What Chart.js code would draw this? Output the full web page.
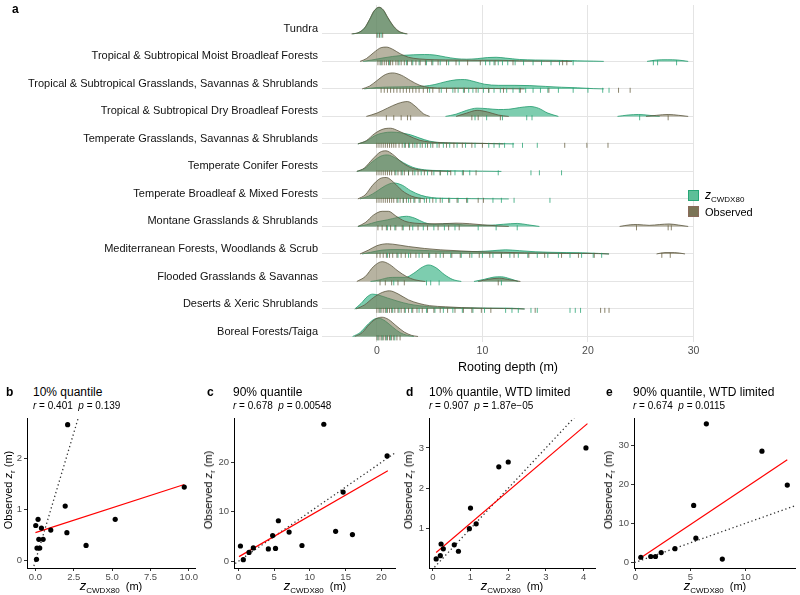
<!DOCTYPE html>
<html><head><meta charset="utf-8">
<script src="https://cdn.jsdelivr.net/npm/chart.js@4/dist/chart.umd.min.js"></script>
<style>
body{margin:0;width:800px;height:595px;background:#fff;position:relative;font-family:"Liberation Sans",Arial,sans-serif;overflow:hidden}
canvas{position:absolute}
.t{position:absolute;white-space:nowrap;color:#000;line-height:1;transform:translateY(-50%)}
.b{font-weight:bold;font-size:12px}
.ti{font-size:12px}
.st{font-size:10px}
.yt{position:absolute;white-space:nowrap;font-size:11px;line-height:1;transform:translate(-50%,-50%) rotate(-90deg)}
.xt{position:absolute;white-space:nowrap;font-size:11px;line-height:1;transform:translate(-50%,-50%)}
.xt i{font-size:13px}
sub{font-size:8px;vertical-align:-3px}
.key{position:absolute;width:11px;height:11px}
</style></head><body>
<canvas id="ridge" width="800" height="378" style="left:0;top:0"></canvas>
<canvas id="cb" width="200" height="182" style="left:0;top:410px"></canvas>
<canvas id="cc" width="200" height="182" style="left:200px;top:410px"></canvas>
<canvas id="cd" width="200" height="182" style="left:400px;top:410px"></canvas>
<canvas id="ce" width="200" height="182" style="left:600px;top:410px"></canvas>

<div class="t b" style="left:12px;top:9px">a</div>
<div class="key" style="left:688px;top:190px;background:#5ebf98;border:1px solid #27a676;box-sizing:border-box"></div>
<div class="key" style="left:688px;top:206px;background:#7b7456;border:1px solid #8a6a5a;box-sizing:border-box"></div>
<div class="t" style="left:705px;top:196px;font-size:12px"><i>z</i><sub>CWDX80</sub></div>
<div class="t" style="left:705px;top:212px;font-size:11px">Observed</div>

<div class="t b" style="left:6px;top:392px">b</div>
<div class="t ti" style="left:33px;top:392px">10% quantile</div>
<div class="t st" style="left:33px;top:406px"><i>r</i> = 0.401&nbsp; <i>p</i> = 0.139</div>
<div class="t b" style="left:207px;top:392px">c</div>
<div class="t ti" style="left:233px;top:392px">90% quantile</div>
<div class="t st" style="left:233px;top:406px"><i>r</i> = 0.678&nbsp; <i>p</i> = 0.00548</div>
<div class="t b" style="left:406px;top:392px">d</div>
<div class="t ti" style="left:429px;top:392px">10% quantile, WTD limited</div>
<div class="t st" style="left:429px;top:406px"><i>r</i> = 0.907&nbsp; <i>p</i> = 1.87e−05</div>
<div class="t b" style="left:606px;top:392px">e</div>
<div class="t ti" style="left:633px;top:392px">90% quantile, WTD limited</div>
<div class="t st" style="left:633px;top:406px"><i>r</i> = 0.674&nbsp; <i>p</i> = 0.0115</div>

<div class="yt" style="left:10px;top:490px">Observed <i>z</i><sub>r</sub> (m)</div>
<div class="yt" style="left:210px;top:490px">Observed <i>z</i><sub>r</sub> (m)</div>
<div class="yt" style="left:410px;top:490px">Observed <i>z</i><sub>r</sub> (m)</div>
<div class="yt" style="left:610px;top:490px">Observed <i>z</i><sub>r</sub> (m)</div>
<div class="xt" style="left:111px;top:587px"><i>z</i><sub>CWDX80</sub>&nbsp; (m)</div>
<div class="xt" style="left:315px;top:587px"><i>z</i><sub>CWDX80</sub>&nbsp; (m)</div>
<div class="xt" style="left:512px;top:587px"><i>z</i><sub>CWDX80</sub>&nbsp; (m)</div>
<div class="xt" style="left:715px;top:587px"><i>z</i><sub>CWDX80</sub>&nbsp; (m)</div>

<script>
// ---------- Panel a data ----------
const biomes = [
  'Tundra',
  'Tropical & Subtropical Moist Broadleaf Forests',
  'Tropical & Subtropical Grasslands, Savannas & Shrublands',
  'Tropical & Subtropical Dry Broadleaf Forests',
  'Temperate Grasslands, Savannas & Shrublands',
  'Temperate Conifer Forests',
  'Temperate Broadleaf & Mixed Forests',
  'Montane Grasslands & Shrublands',
  'Mediterranean Forests, Woodlands & Scrub',
  'Flooded Grasslands & Savannas',
  'Deserts & Xeric Shrublands',
  'Boreal Forests/Taiga'
];
const depthTicks = [0, 10, 20, 30];

// density heights [depth, height] (height in ridge units); null = gap
const obsTundra  = [[-2.4,0],[-1.8,0.04],[-1.2,0.2],[-0.7,0.52],[-0.3,0.82],[0.2,0.97],[0.6,0.88],[1.0,0.62],[1.5,0.32],[2.0,0.12],[2.5,0.03],[2.9,0]];
const predTundra = [[-2.3,0],[-1.7,0.05],[-1.1,0.24],[-0.6,0.58],[-0.2,0.86],[0.2,0.96],[0.6,0.86],[1.0,0.6],[1.5,0.3],[2.0,0.1],[2.5,0.02],[2.8,0]];
const obsMoist  = [[-1.6,0],[-1,0.1],[-0.3,0.32],[0.4,0.5],[0.9,0.52],[1.5,0.44],[2.2,0.28],[3,0.15],[4,0.09],[5.5,0.06],[7.5,0.05],[9.5,0.04],[11.5,0.04],[13.5,0.02],[16,0.01],[18.5,0]];
const predMoist = [[-1.3,0],[-0.5,0.05],[0.5,0.12],[1.5,0.18],[2.5,0.22],[3.5,0.24],[4.5,0.25],[5.5,0.23],[6.5,0.16],[7.5,0.1],[8.5,0.08],[9.5,0.1],[10.5,0.14],[11.3,0.15],[12.2,0.12],[13.5,0.07],[15,0.05],[17,0.04],[19,0.02],[20.5,0.01],[21.5,0],[23,null],[25.6,0],[26.5,0.05],[27.5,0.06],[28.5,0.05],[29.5,0]];
const obsTSG  = [[-1.4,0],[-0.7,0.1],[0,0.3],[0.8,0.52],[1.5,0.58],[2.3,0.5],[3.2,0.3],[4,0.14],[5,0.05],[6.5,0.03],[8,0.03],[10,0.02],[12,0.01],[14,0]];
const predTSG = [[-1.2,0],[0,0.05],[1.5,0.07],[3,0.08],[4.5,0.1],[5.5,0.16],[6.5,0.26],[7.5,0.33],[8.3,0.34],[9.2,0.27],[10.2,0.17],[11.5,0.13],[13,0.13],[14.5,0.12],[16,0.09],[17.5,0.06],[19,0.04],[20.5,0.01],[21.5,0]];
const obsDry  = [[-1,0],[0,0.12],[1,0.3],[2,0.47],[2.9,0.54],[3.7,0.35],[4.4,0.1],[5,0],[6,null],[7.5,0],[8.5,0.12],[9.5,0.22],[10.5,0.16],[11.5,0.05],[12.5,0],[19,null],[25.5,0],[26.5,0.04],[27.6,0.07],[28.6,0.04],[29.5,0]];
const predDry = [[6.5,0],[7.5,0.08],[8.5,0.22],[9.5,0.3],[10.5,0.28],[11.5,0.25],[12.5,0.26],[13.5,0.32],[14.5,0.36],[15.3,0.3],[16.2,0.12],[17.2,0],[20,null],[22.8,0],[23.8,0.05],[24.8,0.07],[25.8,0.04],[26.8,0]];
const obsTG  = [[-1.8,0],[-1,0.12],[-0.2,0.38],[0.6,0.54],[1.3,0.57],[2,0.48],[3,0.3],[4,0.14],[5,0.07],[6.5,0.04],[8,0.03],[10,0.02],[12,0]];
const predTG = [[-1.8,0],[-1,0.1],[-0.2,0.3],[0.6,0.4],[1.4,0.43],[2.3,0.4],[3.2,0.33],[4,0.22],[5,0.1],[6,0.05],[7.5,0.03],[9.5,0.02],[11.5,0.01],[13,0]];
const obsCF  = [[-1.9,0],[-1.2,0.12],[-0.4,0.45],[0.3,0.7],[0.85,0.75],[1.5,0.62],[2.3,0.35],[3.2,0.14],[4.2,0.05],[5.5,0.02],[7,0]];
const predCF = [[-1.9,0],[-1.2,0.1],[-0.4,0.36],[0.4,0.56],[1,0.6],[1.7,0.5],[2.5,0.32],[3.4,0.15],[4.5,0.06],[6,0.03],[8,0.02],[10,0.01],[11.8,0]];
const obsBL  = [[-1.8,0],[-1.1,0.15],[-0.4,0.5],[0.3,0.74],[0.9,0.78],[1.6,0.6],[2.4,0.3],[3.3,0.1],[4.5,0]];
const predBL = [[-1.6,0],[-0.8,0.1],[0,0.28],[0.8,0.48],[1.6,0.58],[2.4,0.5],[3.2,0.3],[4.2,0.13],[5.2,0.05],[7,0.02],[9,0.01],[12.5,0]];
const obsMT  = [[-1.8,0],[-1.1,0.14],[-0.3,0.42],[0.5,0.55],[1.1,0.55],[1.8,0.38],[2.6,0.2],[3.6,0.12],[4.8,0.1],[6.2,0.1],[7.5,0.12],[8.8,0.1],[10,0.06],[11.5,0.02],[12.5,0],[18,null],[23,0],[24,0.06],[24.7,0.07],[25.8,0.04],[26.8,0.07],[27.7,0.09],[28.6,0.05],[29.5,0]];
const predMT = [[-1.8,0],[-1,0.06],[0,0.17],[1,0.24],[2,0.33],[2.8,0.37],[3.6,0.3],[4.5,0.14],[5.5,0.07],[6.5,0.1],[7.5,0.08],[9,0.04],[10.5,0.04],[12,0.08],[13.3,0.11],[14.3,0.06],[15.4,0]];
const obsMD  = [[-1.6,0],[-0.8,0.14],[0,0.3],[1,0.37],[2,0.33],[3,0.27],[4.5,0.2],[6,0.15],[7.5,0.12],[9,0.09],[10.5,0.07],[12,0.06],[14,0.04],[16,0.03],[18,0.02],[20,0.02],[22,0],[24,null],[26.5,0],[27.3,0.05],[28.2,0.05],[29.2,0]];
const predMD = [[-1.4,0],[-0.6,0.06],[0.5,0.14],[2,0.16],[3.5,0.14],[5,0.12],[6.5,0.1],[8,0.09],[9.5,0.09],[11,0.12],[12.2,0.15],[13.5,0.12],[15,0.08],[16.5,0.06],[18,0.05],[19.5,0.04],[21,0.02],[22,0]];
const obsFG  = [[-1.9,0],[-1.1,0.18],[-0.3,0.55],[0.5,0.72],[1.2,0.62],[2,0.38],[2.8,0.18],[3.6,0.06],[4.6,0],[7,null],[9.6,0],[10.6,0.08],[11.6,0.12],[12.6,0.06],[13.6,0]];
const predFG = [[-0.6,0],[0.3,0.06],[1.1,0.14],[1.9,0.15],[2.7,0.15],[3.5,0.3],[4.3,0.52],[4.9,0.6],[5.6,0.5],[6.4,0.25],[7.2,0.07],[8,0],[8.6,null],[9.2,0],[10.2,0.08],[11.1,0.16],[11.8,0.17],[12.6,0.1],[13.4,0]];
const obsDS  = [[-2,0],[-1.2,0.14],[-0.3,0.42],[0.5,0.6],[1.2,0.66],[2,0.55],[3,0.33],[4,0.2],[5,0.12],[6.5,0.08],[8,0.05],[10,0.03],[12,0.02],[14,0]];
const predDS = [[-2.1,0],[-1.5,0.2],[-0.9,0.45],[-0.4,0.54],[0.2,0.5],[1,0.4],[2,0.28],[3,0.18],[4,0.12],[5,0.08],[6.5,0.05],[8.5,0.04],[10.5,0.03],[12.5,0.03],[14,0]];
const obsBF  = [[-2.1,0],[-1.4,0.14],[-0.7,0.45],[0,0.66],[0.5,0.7],[1.1,0.62],[1.8,0.4],[2.6,0.16],[3.3,0.04],[3.9,0]];
const predBF = [[-2.3,0],[-1.6,0.14],[-0.8,0.46],[-0.2,0.64],[0.2,0.66],[0.8,0.56],[1.5,0.34],[2.2,0.14],[2.9,0.04],[3.5,0]];

// rug values (m)
const rugObsTundra = [0.0,0.25,0.55];
const rugPredTundra = [0.1,0.4];
const rugObsMoist = [0.1,0.3,0.5,0.7,0.9,1.1,1.3,1.5,1.8,2.0,2.3,2.6,2.9,3.3,3.7,4.1,4.6,5.2,5.8,6.6,7.5,8.6,9.8,11.2,12.9,17.6,18.0];
const rugPredMoist = [0.4,1.2,2.1,2.8,3.4,4.0,4.7,5.3,6.0,6.8,7.8,10.3,10.7,11.1,11.5,11.9,12.4,13.1,13.9,14.8,15.6,16.5,17.3,18.6,26.2,26.6,28.4];
const rugObsTSG = [0.4,0.7,1.0,1.3,1.6,1.9,2.2,2.5,2.8,3.1,3.4,3.7,4.0,4.4,4.8,5.3,5.9,6.6,7.4,8.3,9.4,10.6,12.0,13.6,16.3,22.9,24.0];
const rugPredTSG = [5.0,6.1,7.2,7.7,8.2,8.7,9.1,9.6,10.1,10.6,11.1,11.7,12.3,12.9,13.5,14.1,14.8,15.5,16.2,17.2,18.6,20.0,21.4,22.0];
const rugObsDry = [0.9,1.6,2.3,2.9,3.2,9.0,9.6,11.7,27.6];
const rugPredDry = [9.3,10.4,11.9,14.2,14.7,24.9];
const rugObsTG = [0.0,0.2,0.4,0.6,0.8,1.0,1.2,1.4,1.6,1.8,2.1,2.4,2.7,3.0,3.4,3.8,4.3,4.8,5.3,5.9,6.6,7.3,8.1,9.0,10.0,17.8,19.9,21.9];
const rugPredTG = [2.6,3.1,3.6,4.1,4.6,5.1,5.7,6.3,6.9,7.6,8.4,9.3,10.6,11.1,11.6,12.1,12.9,13.8,15.2];
const rugObsCF = [0.0,0.2,0.4,0.6,0.8,1.0,1.2,1.4,1.7,2.0,2.3,2.6,3.0,3.4,3.9,4.5,5.2,6.0,7.0,8.2,9.4];
const rugPredCF = [1.8,2.4,3.0,3.6,4.2,4.8,5.4,6.0,6.7,7.4,8.1,8.8,11.5,14.6,15.4,17.5];
const rugObsBL = [0.0,0.2,0.4,0.6,0.8,1.0,1.2,1.4,1.6,1.9,2.2,2.5,2.8,3.2,3.6,4.1,4.7,5.3,6.0,6.8,7.6,8.5,9.6,10.1];
const rugPredBL = [2.0,2.5,3.0,3.5,4.0,4.5,5.0,5.6,6.2,6.9,7.7,8.6,11.0,11.8,13.0,16.4];
const rugObsMT = [0.1,0.5,0.9,1.3,1.8,2.4,3.1,3.9,4.8,5.8,6.8,7.8,24.6,27.6,27.9];
const rugPredMT = [1.0,1.7,2.5,3.4,4.4,5.4,6.4,7.4,9.6,11.3,13.3];
const rugObsMD = [0.0,0.3,0.6,0.9,1.2,1.5,1.9,2.3,2.7,3.2,3.7,4.3,4.9,5.6,6.3,7.1,7.9,8.8,9.7,10.7,11.8,13.0,14.4,15.9,17.5,19.1,20.6,27.0,27.8];
const rugPredMD = [1.0,2.0,3.0,4.0,5.0,6.0,7.0,8.0,9.0,10.0,11.0,11.8,12.6,13.4,14.3,15.2,16.2,17.2,18.3,19.4,20.5,21.3];
const rugObsFG = [0.3,0.8,1.4,2.0,2.6,11.5];
const rugPredFG = [1.6,4.7,5.1,5.9,11.8];
const rugObsDS = [0.0,0.2,0.4,0.6,0.8,1.0,1.2,1.4,1.7,2.0,2.3,2.6,3.0,3.4,3.8,4.3,4.8,5.4,6.0,6.7,7.4,8.2,9.0,9.9,10.8,15.0,21.2,21.6,22.0];
const rugPredDS = [0.3,0.9,1.5,2.1,2.7,3.3,4.0,4.7,5.5,6.3,7.2,8.1,9.1,10.2,12.2,12.8,13.4,14.6,15.2,18.3,18.8,19.3];
const rugObsBF = [0.0,0.2,0.4,0.6,0.8,1.0,1.2,1.4,1.6,1.9,2.2];
const rugPredBF = [0.1,0.5,0.9,1.3,1.7];

const densObsRows  = [obsTundra, obsMoist, obsTSG, obsDry, obsTG, obsCF, obsBL, obsMT, obsMD, obsFG, obsDS, obsBF];
const densPredRows = [predTundra, predMoist, predTSG, predDry, predTG, predCF, predBL, predMT, predMD, predFG, predDS, predBF];
const rugObsRows  = [rugObsTundra, rugObsMoist, rugObsTSG, rugObsDry, rugObsTG, rugObsCF, rugObsBL, rugObsMT, rugObsMD, rugObsFG, rugObsDS, rugObsBF];
const rugPredRows = [rugPredTundra, rugPredMoist, rugPredTSG, rugPredDry, rugPredTG, rugPredCF, rugPredBL, rugPredMT, rugPredMD, rugPredFG, rugPredDS, rugPredBF];

// ---------- Panels b-e data ----------
const bX = [2.1, 9.7, 5.2, 1.94, 2.05, 3.3, 1.0, 0.02, 0.17, 0.39, 0.22, 0.5, 0.1, 0.28, 0.07];
const bY = [2.66, 1.44, 0.81, 1.07, 0.55, 0.30, 0.60, 0.69, 0.81, 0.64, 0.42, 0.42, 0.25, 0.25, 0.03];
const bFitX = [0.0, 9.7], bFitY = [0.55, 1.49];
const cX = [11.95, 20.8, 14.65, 13.6, 15.95, 7.1, 5.6, 4.8, 8.9, 4.2, 5.2, 2.1, 1.5, 0.3, 0.7];
const cY = [27.7, 21.3, 14.0, 6.06, 5.4, 5.9, 8.2, 5.2, 3.2, 2.5, 2.6, 2.7, 1.8, 3.1, 0.34];
const cFitX = [0.1, 20.9], cFitY = [0.95, 18.3];
const dX = [4.06, 2.0, 1.75, 1.0, 1.15, 0.97, 0.57, 0.68, 0.22, 0.28, 0.2, 0.09];
const dY = [3.0, 2.65, 2.53, 1.51, 1.12, 1.0, 0.6, 0.44, 0.62, 0.5, 0.33, 0.25];
const dFitX = [0.09, 4.1], dFitY = [0.41, 3.6];
const eX = [6.45, 11.5, 13.8, 5.3, 5.5, 3.6, 2.35, 1.83, 1.4, 0.5, 7.9];
const eY = [35.5, 28.5, 19.8, 14.6, 6.2, 3.5, 2.5, 1.5, 1.5, 1.3, 0.85];
const eFitX = [0.33, 13.8], eFitY = [0.85, 26.3];
const bXTicks = [0, 2.5, 5, 7.5, 10], bYTicks = [0, 1, 2];
const cXTicks = [0, 5, 10, 15, 20], cYTicks = [0, 10, 20];
const dXTicks = [0, 1, 2, 3, 4], dYTicks = [1, 2, 3];
const eXTicks = [0, 5, 10], eYTicks = [0, 10, 20, 30];

// ---------- drawing ----------
const FAM = '"Liberation Sans", Arial, sans-serif';
const predFill = 'rgba(38,172,122,0.6)', predLine = '#1f9a6c';
const obsFill = 'rgba(123,116,84,0.55)', obsLine = '#5c573f';

const ridgeSets = [];
const nRows = biomes.length;
// rugs on top
for (let k = nRows - 1; k >= 0; k--) {
  const base = nRows - k;
  ridgeSets.push({data: rugObsRows[k].map(v => ({x: v, y: base - 0.05})), showLine: false,
    pointStyle: 'line', rotation: 90, pointRadius: 2.5, pointBorderWidth: 1,
    pointBorderColor: 'rgba(100,92,62,0.75)', pointBackgroundColor: 'rgba(0,0,0,0)'});
  ridgeSets.push({data: rugPredRows[k].map(v => ({x: v, y: base - 0.05})), showLine: false,
    pointStyle: 'line', rotation: 90, pointRadius: 2.5, pointBorderWidth: 1,
    pointBorderColor: 'rgba(31,160,110,0.75)', pointBackgroundColor: 'rgba(0,0,0,0)'});
}
for (let k = nRows - 1; k >= 0; k--) {
  const base = nRows - k;
  const toPts = arr => arr.map(p => ({x: p[0], y: p[1] === null ? null : base + p[1]}));
  ridgeSets.push({data: toPts(densObsRows[k]), borderColor: obsLine, backgroundColor: obsFill,
    borderWidth: 0.8, pointRadius: 0, fill: {value: base}, cubicInterpolationMode: 'monotone', spanGaps: false});
  ridgeSets.push({data: toPts(densPredRows[k]), borderColor: predLine, backgroundColor: predFill,
    borderWidth: 0.8, pointRadius: 0, fill: {value: base}, cubicInterpolationMode: 'monotone', spanGaps: false});
}

new Chart(document.getElementById('ridge'), {
  type: 'line',
  data: {datasets: ridgeSets},
  options: {
    responsive: false, animation: false, events: [],
    layout: {padding: {top: 3, right: 106, left: 0, bottom: 0}},
    plugins: {legend: {display: false}, tooltip: {enabled: false}},
    scales: {
      x: {type: 'linear', min: -5.2, max: 30.05,
        afterBuildTicks: s => { s.ticks = depthTicks.map(v => ({value: v})); },
        afterFit: s => { s.height = 36; s.paddingLeft = 0; s.paddingRight = 0; },
        grid: {color: '#e4e4e4', lineWidth: 1, drawTicks: false},
        border: {display: false},
        ticks: {padding: 3, color: '#4d4d4d', font: {size: 10.5, family: FAM}},
        title: {display: true, text: 'Rooting depth (m)', color: '#000', font: {size: 12.5, family: FAM}, padding: {top: 0, bottom: 3}}
      },
      y: {type: 'linear', min: 0.8, max: 13.05,
        afterBuildTicks: s => { s.ticks = biomes.map((n, i) => ({value: nRows - i})); },
        afterFit: s => { s.width = 322; s.paddingTop = 0; s.paddingBottom = 0; },
        grid: {color: '#e4e4e4', lineWidth: 1, drawTicks: false},
        border: {display: false},
        ticks: {autoSkip: false, padding: 4, labelOffset: -5, color: '#111', font: {size: 11, family: FAM},
          callback: v => biomes[nRows - v]}
      }
    }
  }
});

function scatterPanel(id, xs, ys, fx, fy, xr, yr, xt, yt, yw, fmt) {
  const pts = xs.map((x, i) => ({x: x, y: ys[i]}));
  const fit = fx.map((x, i) => ({x: x, y: fy[i]}));
  const lo = Math.min(xr[0], yr[0]), hi = Math.max(xr[1], yr[1]);
  const ident = [{x: lo, y: lo}, {x: hi, y: hi}];
  new Chart(document.getElementById(id), {
    type: 'scatter',
    data: {datasets: [
      {data: pts, backgroundColor: '#000', borderColor: '#000', pointRadius: 2.6, borderWidth: 0},
      {data: fit, showLine: true, borderColor: '#ff0000', borderWidth: 1.2, pointRadius: 0},
      {data: ident, showLine: true, borderColor: '#333', borderDash: [1.3, 2.7], borderWidth: 1.3, pointRadius: 0}
    ]},
    options: {
      responsive: false, animation: false, events: [],
      layout: {padding: {top: 8, right: 5, left: 0, bottom: 0}},
      plugins: {legend: {display: false}, tooltip: {enabled: false}},
      scales: {
        x: {type: 'linear', min: xr[0], max: xr[1],
          afterBuildTicks: s => { s.ticks = xt.map(v => ({value: v})); },
          afterFit: s => { s.height = 24; s.paddingLeft = 0; s.paddingRight = 0; },
          grid: {drawOnChartArea: false, drawTicks: true, tickLength: 3, color: '#333'},
          border: {display: true, color: '#000', width: 1},
          ticks: {padding: 1, color: '#4d4d4d', font: {size: 9.5, family: FAM}, callback: fmt}
        },
        y: {type: 'linear', min: yr[0], max: yr[1],
          afterBuildTicks: s => { s.ticks = yt.map(v => ({value: v})); },
          afterFit: s => { s.width = yw; s.paddingTop = 0; s.paddingBottom = 0; },
          grid: {drawOnChartArea: false, drawTicks: true, tickLength: 3, color: '#333'},
          border: {display: true, color: '#000', width: 1},
          ticks: {padding: 2, color: '#4d4d4d', font: {size: 9.5, family: FAM}}
        }
      }
    }
  });
}
scatterPanel('cb', bX, bY, bFitX, bFitY, [-0.55, 10.4], [-0.14, 2.79], bXTicks, bYTicks, 27, v => v.toFixed(1));
scatterPanel('cc', cX, cY, cFitX, cFitY, [-0.6, 21.9], [-1.35, 28.96], cXTicks, cYTicks, 34, v => String(v));
scatterPanel('cd', dX, dY, dFitX, dFitY, [-0.1, 4.3], [0.025, 3.74], dXTicks, dYTicks, 29, v => String(v));
scatterPanel('ce', eX, eY, eFitX, eFitY, [-0.12, 14.5], [-1.45, 37.0], eXTicks, eYTicks, 34, v => String(v));
</script>
</body></html>
